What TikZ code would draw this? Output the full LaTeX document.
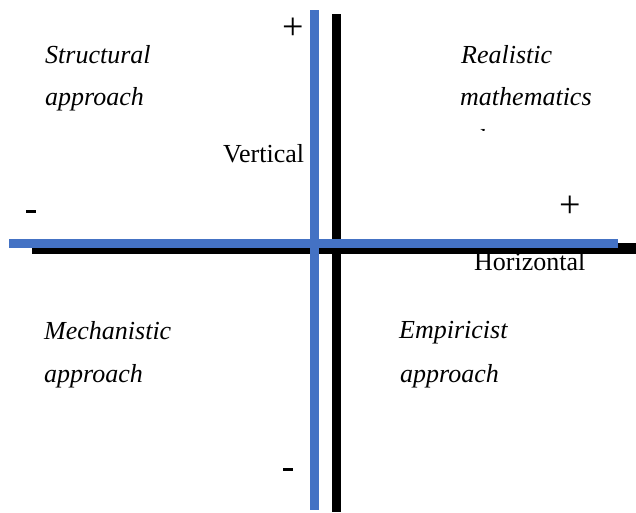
\documentclass[tikz,border=0pt]{standalone}
\usepackage{fontspec}
\setmainfont{Liberation Serif}
\definecolor{axisblue}{RGB}{68,114,196}
\begin{document}
\begin{tikzpicture}[x=1pt,y=-1pt,
  lbl/.style={anchor=base west,inner sep=0pt,font=\fontsize{26}{30}\selectfont},
  ilbl/.style={lbl,font=\fontsize{26}{30}\selectfont\itshape},
  sign/.style={inner sep=0pt,font=\fontsize{38}{40}\selectfont}]
\useasboundingbox (0,0) rectangle (636,512);
% black shadow axes
\fill[black] (332,14) rectangle (341,512);
\fill[black] (32,243) rectangle (636,254);
% blue axes
\fill[axisblue] (9,239) rectangle (618,247.5);
\fill[axisblue] (310,10) rectangle (318.5,510);
% signs
\node[sign] (vplus) at (293,29) {+};
\node[sign] (hplus) at (570,207) {+};
\fill[black] (26,209.5) rectangle (36,212.5);
\fill[black] (283,467.5) rectangle (293,470.5);
% axis labels
\node[lbl] (vert) at (223,162) {Vertical};
\node[lbl] (horiz) at (474,270) {Horizontal};
% quadrant labels
\node[ilbl] (s1) at (45,63) {Structural};
\node[ilbl] (s2) at (45,105) {approach};
\node[ilbl] (r1) at (461,63) {Realistic};
\node[ilbl] (r2) at (460,105) {mathematics};
\begin{scope}
\clip (476,120) rectangle (488,130.5);
\node[ilbl] (r3) at (460,147) {education};
\end{scope}
\node[ilbl] (m1) at (44,339) {Mechanistic};
\node[ilbl] (m2) at (44,382) {approach};
\node[ilbl] (e1) at (399,338) {Empiricist};
\node[ilbl] (e2) at (400,382) {approach};
\end{tikzpicture}
\end{document}
